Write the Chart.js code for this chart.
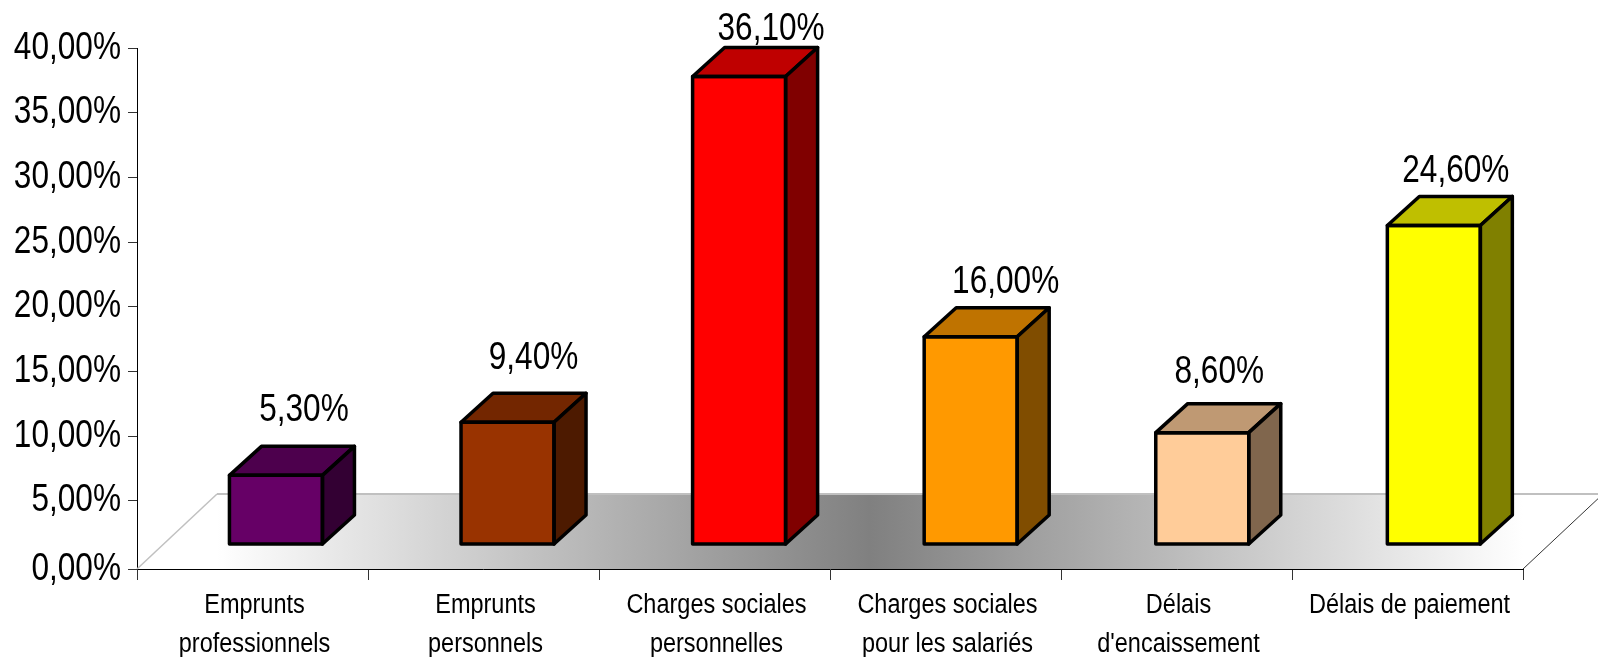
<!DOCTYPE html>
<html lang="fr">
<head>
<meta charset="utf-8">
<title>Difficultés</title>
<script src="https://cdn.jsdelivr.net/npm/chart.js@4"></script>
<style>
html, body { margin: 0; padding: 0; background: #fff; overflow: hidden; }
canvas { display: block; }
</style>
</head>
<body>
<canvas id="graphique" width="1598" height="657"></canvas>
<script>
const categories = [
    ['Emprunts', 'professionnels'],
    ['Emprunts', 'personnels'],
    ['Charges sociales', 'personnelles'],
    ['Charges sociales', 'pour les salariés'],
    ['Délais', "d'encaissement"],
    ['Délais de paiement']
];
const valeurs = [5.3, 9.4, 36.1, 16, 8.6, 24.6];
const etiquettes = ['5,30%', '9,40%', '36,10%', '16,00%', '8,60%', '24,60%'];

// the zero tick sits a little lower than the regular 5% step in the original
const tickValeurs = [-0.28, 5, 10, 15, 20, 25, 30, 35, 40];
const tickLabels = ['0,00%', '5,00%', '10,00%', '15,00%', '20,00%', '25,00%', '30,00%', '35,00%', '40,00%'];

const couleurs = ['#660066', '#993300', '#ff0000', '#ff9900', '#ffcc99', '#ffff00'];
const couleursHaut = ['#4d004d', '#732600', '#bf0000', '#bf7300', '#bf9973', '#bfbf00'];
const couleursCote = ['#330033', '#4d1a00', '#800000', '#804d00', '#80664d', '#808000'];

// the labels were placed by hand: offsets from the middle of the bar's back edge
const etiquetteDx = [-4, -6, 0, 3, -15, -10];
const etiquetteDy = [25, 24, 7.5, 15, 21, 14];

const POLICE = '"Liberation Sans", Arial, sans-serif';
const PROF_X = 32;
const PROF_Y = 29;
const SOL_X = 80;
const SOL_Y = 75;

// no narrow font installed, so the text is squeezed horizontally
function texteEtroit(ctx, texte, x, y, taille, etroit, align) {
    ctx.save();
    ctx.translate(x, y);
    ctx.scale(etroit, 1);
    ctx.font = taille + 'px ' + POLICE;
    ctx.fillStyle = '#000';
    ctx.textAlign = align;
    ctx.textBaseline = 'alphabetic';
    ctx.fillText(texte, 0, 0);
    ctx.restore();
}

const sol3d = {
    id: 'sol3d',
    beforeDatasetsDraw(chart) {
        const { ctx, chartArea: a } = chart;
        const grad = ctx.createLinearGradient(a.left + SOL_X, 0, a.right, 0);
        grad.addColorStop(0, '#ffffff');
        grad.addColorStop(0.5, '#808080');
        grad.addColorStop(1, '#ffffff');
        ctx.save();
        ctx.beginPath();
        ctx.moveTo(a.left, a.bottom);
        ctx.lineTo(a.left + SOL_X, a.bottom - SOL_Y);
        ctx.lineTo(a.right + SOL_X, a.bottom - SOL_Y);
        ctx.lineTo(a.right, a.bottom);
        ctx.closePath();
        ctx.fillStyle = grad;
        ctx.fill();
        ctx.strokeStyle = '#c0c0c0';
        ctx.lineWidth = 2;
        ctx.beginPath();
        ctx.moveTo(a.left + SOL_X, a.bottom - SOL_Y);
        ctx.lineTo(a.right + SOL_X, a.bottom - SOL_Y);
        ctx.stroke();
        ctx.lineWidth = 1.5;
        ctx.beginPath();
        ctx.moveTo(a.left, a.bottom);
        ctx.lineTo(a.left + SOL_X, a.bottom - SOL_Y);
        ctx.stroke();
        ctx.strokeStyle = '#333333';
        ctx.lineWidth = 1;
        ctx.beginPath();
        ctx.moveTo(a.right, a.bottom);
        ctx.lineTo(a.right + SOL_X, a.bottom - SOL_Y);
        ctx.stroke();
        ctx.restore();
    }
};

const barres3d = {
    id: 'barres3d',
    afterDatasetsDraw(chart) {
        const { ctx } = chart;
        ctx.save();
        ctx.strokeStyle = '#000';
        ctx.lineWidth = 3.5;
        ctx.lineJoin = 'round';
        chart.getDatasetMeta(0).data.forEach((bar, i) => {
            const g = bar.x - bar.width / 2;
            const d = bar.x + bar.width / 2;
            const h = bar.y;
            const b = bar.base;

            ctx.fillStyle = couleursHaut[i];
            ctx.beginPath();
            ctx.moveTo(g, h);
            ctx.lineTo(g + PROF_X, h - PROF_Y);
            ctx.lineTo(d + PROF_X, h - PROF_Y);
            ctx.lineTo(d, h);
            ctx.closePath();
            ctx.fill();
            ctx.stroke();

            ctx.fillStyle = couleursCote[i];
            ctx.beginPath();
            ctx.moveTo(d, h);
            ctx.lineTo(d + PROF_X, h - PROF_Y);
            ctx.lineTo(d + PROF_X, b - PROF_Y);
            ctx.lineTo(d, b);
            ctx.closePath();
            ctx.fill();
            ctx.stroke();

            ctx.strokeRect(g, h, bar.width, b - h);

            texteEtroit(ctx, etiquettes[i], bar.x + PROF_X + etiquetteDx[i], h - PROF_Y - etiquetteDy[i], 39, 0.81, 'center');
        });
        ctx.restore();
    }
};

const textesAxes = {
    id: 'textesAxes',
    afterDraw(chart) {
        const { ctx, scales, chartArea } = chart;
        tickValeurs.forEach((v, i) => {
            texteEtroit(ctx, tickLabels[i], 121, scales.y.getPixelForValue(v) + 10.7, 39, 0.81, 'right');
        });
        categories.forEach((lignes, i) => {
            lignes.forEach((ligne, n) => {
                texteEtroit(ctx, ligne, scales.x.getPixelForTick(i) + 2, chartArea.bottom + 44 + n * 39, 27, 0.87, 'center');
            });
        });
    }
};

new Chart(document.getElementById('graphique').getContext('2d'), {
    type: 'bar',
    data: {
        labels: categories,
        datasets: [{
            data: valeurs.map((v, i) => ({ x: i, y: v })),
            backgroundColor: couleurs,
            borderWidth: 0,
            barThickness: 93,
            xAxisID: 'xBarres',
            yAxisID: 'yBarres'
        }]
    },
    plugins: [sol3d, barres3d, textesAxes],
    options: {
        responsive: false,
        animation: false,
        layout: { padding: { top: 48, right: 75, bottom: 0, left: 0 } },
        plugins: { legend: { display: false }, tooltip: { enabled: false } },
        scales: {
            x: {
                type: 'category',
                position: 'bottom',
                offset: true,
                afterFit: s => { s.height = 88; },
                border: { display: true, color: '#000', width: 1 },
                grid: { offset: true, drawOnChartArea: false, drawTicks: true, tickLength: 11, tickColor: '#333' },
                ticks: { display: false, autoSkip: false }
            },
            y: {
                type: 'linear',
                position: 'left',
                min: -0.28,
                max: 40,
                afterFit: s => { s.width = 137; },
                afterBuildTicks: s => { s.ticks = tickValeurs.map(v => ({ value: v })); },
                border: { display: true, color: '#000', width: 1 },
                grid: { drawOnChartArea: false, drawTicks: true, tickLength: 9, tickColor: '#333' },
                ticks: { display: false, autoSkip: false }
            },
            // hidden scales for the bars: their front face stands on the floor, inside the axes
            xBarres: { type: 'linear', display: false, offset: false, min: -0.6, max: 5.385 },
            yBarres: { type: 'linear', display: false, min: -1.93, max: 38.3 }
        }
    }
});
</script>
</body>
</html>
